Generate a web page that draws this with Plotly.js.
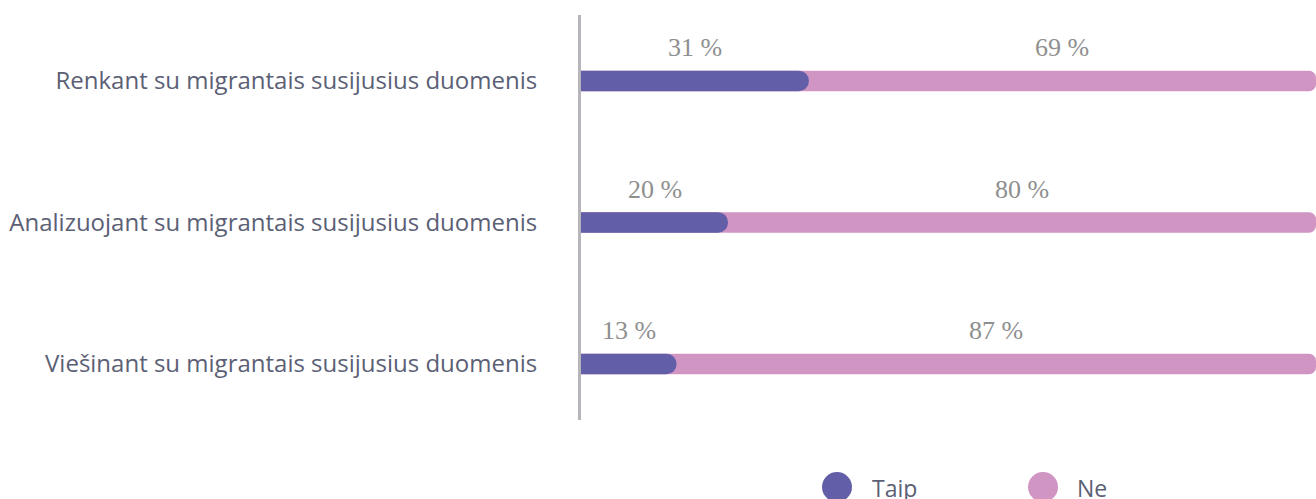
<!DOCTYPE html>
<html>
<head>
<meta charset="utf-8">
<script src="https://cdn.plot.ly/plotly-3.0.1.min.js"></script>
<style>html,body{margin:0;padding:0;background:#fff;}#chart{width:1316px;height:499px;}</style>
</head>
<body>
<div id="chart"></div>
<script>
const categories = [
  "Renkant su migrantais susijusius duomenis",
  "Analizuojant su migrantais susijusius duomenis",
  "Viešinant su migrantais susijusius duomenis"
];
const seriesNames = ["Taip", "Ne"];
const taipValues = [31, 20, 13];
const neValues = [69, 80, 87];

const purple = "#625ea8";
const pink = "#d095c3";

const barWidth = 0.145;

// full-length bar (Taip + Ne) drawn underneath, Taip overlaid on top (on an overlaying axis)
const totals = taipValues.map((t, i) => t + neValues[i]);

const traceNe = {
  type: "bar", orientation: "h", name: seriesNames[1],
  y: categories, x: totals,
  width: barWidth,
  marker: {color: pink, cornerradius: 7, line: {width: 0}},
  hoverinfo: "skip", showlegend: false
};
const traceTaip = {
  type: "bar", orientation: "h", name: seriesNames[0],
  y: categories, x: taipValues, yaxis: "y2",
  width: barWidth,
  marker: {color: purple, cornerradius: 10, line: {width: 0}},
  hoverinfo: "skip", showlegend: false
};

const annotations = [];
const labelFont = {family: "Liberation Serif, serif", size: 26, color: "#8f8f8f"};
categories.forEach((c, i) => {
  annotations.push({x: taipValues[i] / 2, y: c, xref: "x", yref: "y", text: taipValues[i] + " %",
    showarrow: false, yshift: 33, font: labelFont});
  annotations.push({x: taipValues[i] + neValues[i] / 2, y: c, xref: "x", yref: "y", text: neValues[i] + " %",
    showarrow: false, yshift: 33, font: labelFont});
});
// legend
const legendColors = [purple, pink];
const legendX = [0.3483, 0.6286];
const legendTextX = [0.3932, 0.6721];
const shapes = [];
seriesNames.forEach((n, i) => {
  shapes.push({type: "circle", xref: "paper", yref: "paper", xsizemode: "pixel", ysizemode: "pixel",
    xanchor: legendX[i], yanchor: -0.1654, x0: -15, x1: 15, y0: -15, y1: 15,
    fillcolor: legendColors[i], line: {width: 0}});
  annotations.push({x: legendTextX[i], y: -0.1654, xref: "paper", yref: "paper", text: n,
    showarrow: false, xanchor: "left", yanchor: "middle", yshift: -1,
    font: {family: "Open Sans, sans-serif", size: 23, color: "#5b6075"}});
});

const yRange = [2.396, -0.466];

const layout = {
  width: 1316, height: 499,
  margin: {l: 581, r: 0, t: 15, b: 79, pad: 0},
  paper_bgcolor: "#fff", plot_bgcolor: "#fff",
  barmode: "overlay",
  showlegend: false,
  xaxis: {range: [0, 100], showgrid: false, zeroline: false, showticklabels: false, showline: false, fixedrange: true},
  yaxis: {type: "category", range: yRange, showgrid: false, zeroline: false,
    showline: true, linecolor: "#b5b5ba", linewidth: 3,
    ticks: "", ticklabelstandoff: 36,
    tickfont: {family: "Open Sans, sans-serif", size: 24, color: "#5b6075"}},
  yaxis2: {type: "category", overlaying: "y", range: yRange, showgrid: false, zeroline: false,
    showline: false, showticklabels: false, ticks: ""},
  annotations: annotations,
  shapes: shapes
};

Plotly.newPlot("chart", [traceNe, traceTaip], layout, {staticPlot: true, displayModeBar: false});
</script>
</body>
</html>
